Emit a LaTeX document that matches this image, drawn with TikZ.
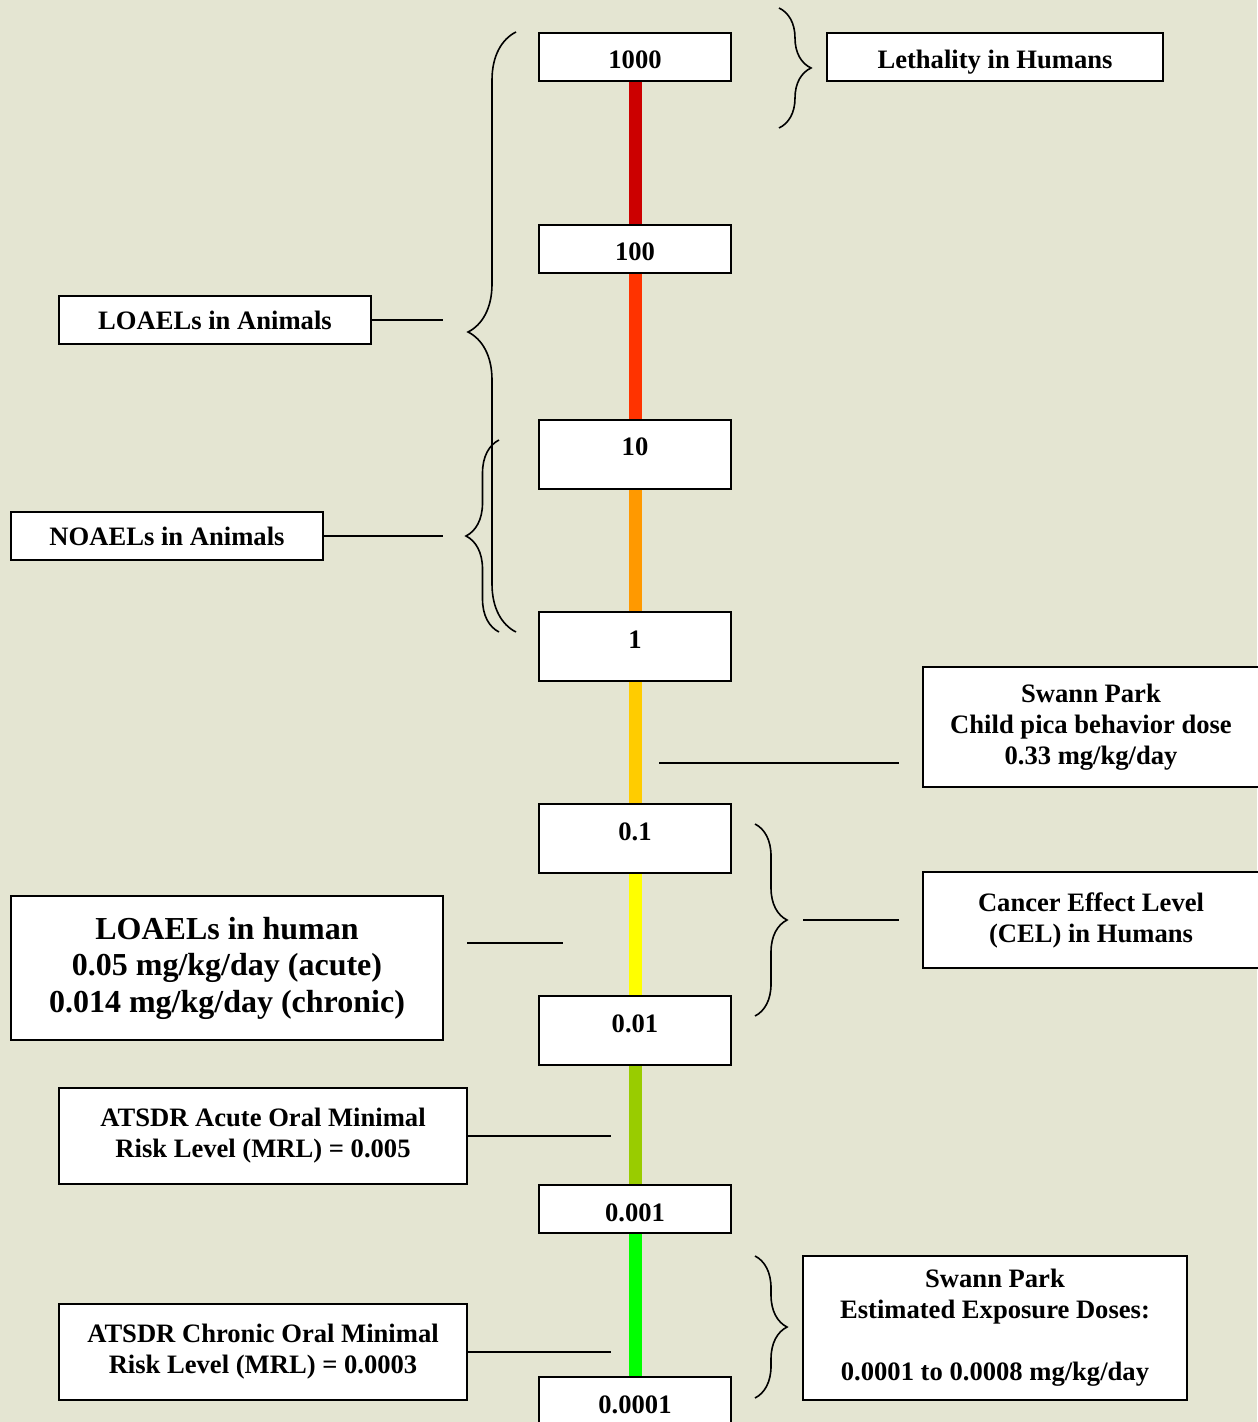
\documentclass[tikz,border=0pt]{standalone}
\usepackage{fontspec}
\setmainfont{Liberation Serif}
\usetikzlibrary{positioning, decorations.pathreplacing}
\definecolor{bgcream}{RGB}{228,229,210}
\definecolor{dosered}{RGB}{204,0,0}
\definecolor{doseorangered}{RGB}{255,51,0}
\definecolor{doseorange}{RGB}{255,153,0}
\definecolor{doseamber}{RGB}{255,204,0}
\definecolor{doseyellow}{RGB}{255,255,0}
\definecolor{doseolive}{RGB}{153,204,0}
\definecolor{dosegreen}{RGB}{0,255,0}

\begin{document}
\begin{tikzpicture}[x=0.5pt,y=-0.5pt]
    \tikzstyle{level}=[shape=rectangle,draw,fill=white,line width=1pt,minimum width=96pt,anchor=north,inner ysep=0pt,text height=18pt,font=\bfseries\fontsize{13.3}{15.5}\selectfont]
    \tikzstyle{shortlevel}=[level,text depth=6pt]
    \tikzstyle{talllevel}=[level,text depth=16.5pt]
    \tikzstyle{note}=[shape=rectangle,draw,fill=white,line width=1pt,align=center,inner sep=0pt,font=\bfseries\fontsize{13.3}{15.5}\selectfont]
    \tikzstyle{bignote}=[note,font=\bfseries\fontsize{16}{18.25}\selectfont]
    \tikzstyle{bar}=[line width=6.5pt]
    \tikzstyle{lead}=[line width=1pt]
    \tikzstyle{curly}=[decorate,decoration={brace,amplitude=16pt},line width=0.8pt]

    \path[use as bounding box,fill=bgcream] (0,0) rectangle (1257,1422);

    % dose scale
    \node[shortlevel] (v1000) at (635,32) {1000};
    \node[shortlevel,below=71pt of v1000] (v100) {100};
    \node[talllevel,below=72.5pt of v100] (v10) {10};
    \node[talllevel,below=60.5pt of v10] (v1) {1};
    \node[talllevel,below=60.5pt of v1] (v01) {0.1};
    \node[talllevel,below=60.5pt of v01] (v001) {0.01};
    \node[shortlevel,below=59pt of v001] (v0001) {0.001};
    \node[shortlevel,below=71pt of v0001] (v00001) {0.0001};

    \path
    (v1000) edge[bar,draw=dosered] (v100)
    (v100) edge[bar,draw=doseorangered] (v10)
    (v10) edge[bar,draw=doseorange] (v1)
    (v1) edge[bar,draw=doseamber] (v01)
    (v01) edge[bar,draw=doseyellow] (v001)
    (v001) edge[bar,draw=doseolive] (v0001)
    (v0001) edge[bar,draw=dosegreen] (v00001)
   ;

    % labels
    \node[shortlevel,minimum width=168pt] (lethal) at (995,32) {Lethality in Humans};
    \node[note,minimum width=156pt,minimum height=24pt] (loaelA) at (215,320) {LOAELs in Animals};
    \node[note,minimum width=156pt,minimum height=24pt] (noaelA) at (167,536) {NOAELs in Animals};
    \node[note,minimum width=168pt,minimum height=60pt] (pica) at (1091,727) {Swann Park\\Child pica behavior dose\\0.33 mg/kg/day};
    \node[note,minimum width=168pt,minimum height=48pt] (cel) at (1091,920) {Cancer Effect Level\\(CEL) in Humans};
    \node[bignote,minimum width=216pt,minimum height=72pt] (loaelH) at (227,968) {LOAELs in human\\0.05 mg/kg/day (acute)\\0.014 mg/kg/day (chronic)};
    \node[note,minimum width=204pt,minimum height=48pt] (acute) at (263,1136) {ATSDR Acute Oral Minimal\\Risk Level (MRL) = 0.005};
    \node[note,minimum width=204pt,minimum height=48pt] (chronic) at (263,1352) {ATSDR Chronic Oral Minimal\\Risk Level (MRL) = 0.0003};
    \node[note,minimum width=192pt,minimum height=72pt] (eed) at (995,1328) {Swann Park\\Estimated Exposure Doses:\\[15.5pt]0.0001 to 0.0008 mg/kg/day};

    % braces
    \draw[curly] (779,8) -- (779,128);
    \draw[curly,decoration={amplitude=24pt}] (516,632) -- (516,32);
    \draw[curly,decoration={amplitude=16.5pt}] (499,632) -- (499,440);
    \draw[curly] (755,824) -- (755,1016);
    \draw[curly] (755,1256) -- (755,1398);

    % leaders
    \coordinate (loaelA-tip) at (443,320);
    \coordinate (noaelA-tip) at (443,536);
    \coordinate (pica-a) at (659,763);
    \coordinate (pica-b) at (899,763);
    \coordinate (cel-a) at (803,920);
    \coordinate (cel-b) at (899,920);
    \coordinate (loaelH-a) at (467,943);
    \coordinate (loaelH-b) at (563,943);
    \coordinate (acute-tip) at (611,1136);
    \coordinate (chronic-tip) at (611,1352);
    \draw[lead] (loaelA) -- (loaelA-tip);
    \draw[lead] (noaelA) -- (noaelA-tip);
    \draw[lead] (pica-a) -- (pica-b);
    \draw[lead] (cel-a) -- (cel-b);
    \draw[lead] (loaelH-a) -- (loaelH-b);
    \draw[lead] (acute) -- (acute-tip);
    \draw[lead] (chronic) -- (chronic-tip);
\end{tikzpicture}
\end{document}
